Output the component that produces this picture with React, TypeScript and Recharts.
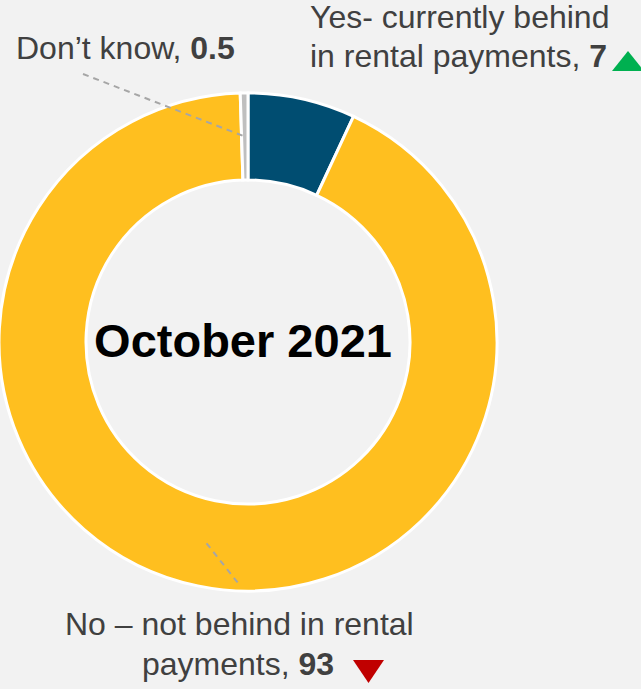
import { PieChart, Pie, Cell } from "recharts";

const categories = ["Yes- currently behind in rental payments", "No – not behind in rental payments", "Don’t know"];
const values = [7, 93, 0.5];
const valueLabels = ["7", "93", "0.5"];
const colors = ["#004D71", "#FFBF1F", "#BFBFBF"];
const title = "October 2021";

const data = categories.map((name, i) => ({ name, value: values[i] }));

const RADIAN = Math.PI / 180;
const FONT = "'Liberation Sans', Arial, sans-serif";
const TEXT = "#404040";

function ringPoint(cx: number, cy: number, r: number, angle: number) {
  return { x: cx + r * Math.cos(-angle * RADIAN), y: cy + r * Math.sin(-angle * RADIAN) };
}

function renderLabel(props: any) {
  const { cx, cy, midAngle, innerRadius, outerRadius, index } = props;
  const mid = ringPoint(cx, cy, (innerRadius + outerRadius) / 2, midAngle);

  if (index === 0) {
    return (
      <g>
        <text x={cx - 5} y={357} textAnchor="middle" fontFamily={FONT} fontSize={47} fontWeight="bold" fill="#000">
          {title}
        </text>
        <text x={310} y={28} fontFamily={FONT} fontSize={32} fill={TEXT}>Yes- currently behind</text>
        <text x={310} y={67} fontFamily={FONT} fontSize={32} fill={TEXT}>
          in rental payments, <tspan fontWeight="bold">{valueLabels[0]}</tspan>
        </text>
        <polygon points="612,71 644,71 628,51" fill="#00B050" />
      </g>
    );
  }
  if (index === 1) {
    return (
      <g>
        <line x1={mid.x} y1={mid.y} x2={238} y2={583} stroke="#A6A6A6" strokeWidth={2} strokeDasharray="6 5" />
        <text x={65} y={635} fontFamily={FONT} fontSize={32} fill={TEXT}>No – not behind in rental</text>
        <text x={142} y={675} fontFamily={FONT} fontSize={32} fill={TEXT}>
          payments, <tspan fontWeight="bold">{valueLabels[1]}</tspan>
        </text>
        <polygon points="353,660 384,660 368.5,683" fill="#C00000" />
      </g>
    );
  }
  return (
    <g>
      <line x1={83} y1={74} x2={mid.x} y2={mid.y} stroke="#A6A6A6" strokeWidth={2} strokeDasharray="6 5" />
      <text x={16} y={59} fontFamily={FONT} fontSize={32} fill={TEXT}>
        Don’t know, <tspan fontWeight="bold">{valueLabels[2]}</tspan>
      </text>
    </g>
  );
}

export default function App() {
  return (
    <div style={{ position: "absolute", left: 0, top: 0, width: 641, height: 689, background: "#F2F2F2" }}>
      <PieChart width={641} height={689} margin={{ top: 0, right: 0, bottom: 0, left: 0 }}>
        <Pie
          data={data}
          dataKey="value"
          nameKey="name"
          cx={248}
          cy={342}
          innerRadius={162}
          outerRadius={249}
          startAngle={90}
          endAngle={-270}
          stroke="#FFFFFF"
          strokeWidth={3}
          label={renderLabel}
          labelLine={false}
          isAnimationActive={false}
        >
          {data.map((d, i) => (
            <Cell key={d.name} fill={colors[i]} />
          ))}
        </Pie>
      </PieChart>
    </div>
  );
}
